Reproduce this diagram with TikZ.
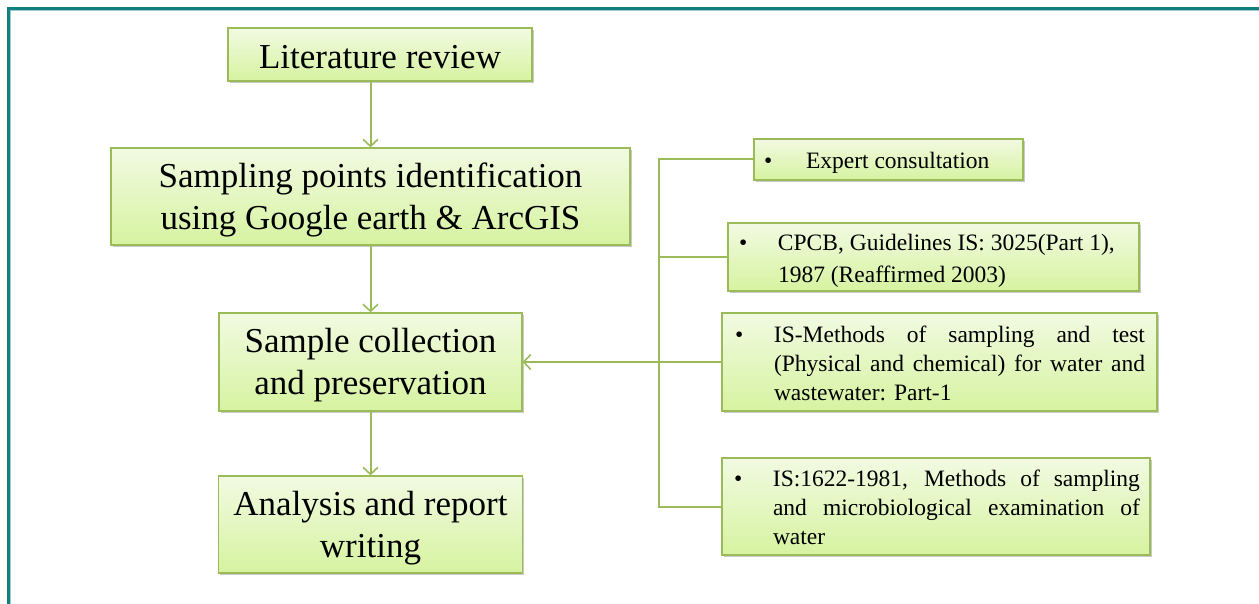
\documentclass[tikz,border=0pt]{standalone}
\usepackage{fontspec}
\setmainfont{Liberation Serif}
\usetikzlibrary{arrows.meta,shadows}

\definecolor{olive}{RGB}{155,187,89}
\definecolor{boxtop}{RGB}{242,250,226}
\definecolor{boxbot}{RGB}{214,243,160}
\definecolor{frameteal}{RGB}{17,128,128}

% bullet item: lead-in width, bullet offset, text width, lines
\newcommand{\bitem}[4]{\makebox[#1][l]{\hspace{#2}\textbullet}\parbox[t]{#3}{#4}}
\newcommand{\jline}[1]{\makebox[\linewidth][s]{#1}}
\newcommand{\padr}[1]{\rule{#1}{0pt}}

\begin{document}
\begin{tikzpicture}[x=1pt,y=-1pt,
  box/.style={draw=olive,line width=1.3pt,top color=boxtop,bottom color=boxbot,
    inner sep=0pt,
    drop shadow={shadow xshift=1.5pt,shadow yshift=-2pt,opacity=0.35,fill=black!60}},
  bigbox/.style={box,align=center,font=\fontsize{35}{42}\selectfont},
  twoline/.style={bigbox,text height=73pt},
  smallbox/.style={box,font=\fontsize{23.5}{29}\selectfont},
  conn/.style={draw=olive,line width=2pt},
  arr/.style={conn,-{Straight Barb[length=7pt,width=15pt,line width=1.6pt]}}
]
\useasboundingbox (0,0) rectangle (1259,604);

% frame
\draw[frameteal,line width=3pt] (8.5,604) -- (8.5,8.5) -- (1259,8.5);
\draw[frameteal!40,line width=0.8pt] (10.5,604) -- (10.5,10.5) -- (1259,10.5);

% main steps
\node[bigbox,minimum width=304pt,minimum height=53pt,text height=28pt] (lit) at (380,54.5) {Literature review};
\node[twoline,minimum width=519pt,minimum height=97pt] (samp) at (370.5,196.5)
  {Sampling points identification\\using Google earth \& ArcGIS};
\node[twoline,minimum width=303pt,minimum height=98pt] (coll) at (370.5,362)
  {Sample collection\\and preservation};
\node[twoline,minimum width=304pt,minimum height=97pt] (ana) at (370.5,524.5)
  {Analysis and report\\writing};

% references
\node[smallbox,minimum width=269pt,minimum height=41pt,text height=22.5pt] (exp) at (888.5,159.5)
  {\makebox[269pt][l]{\makebox[52pt][l]{\hspace{10pt}\textbullet}Expert consultation}};
\node[smallbox,minimum width=411pt,minimum height=68pt,text height=24.5pt] (cpcb) at (933.5,257)
  {\bitem{50pt}{11pt}{350pt}{\fontsize{23.5}{31.5}\selectfont CPCB, Guidelines IS: 3025(Part 1),\\1987 (Reaffirmed 2003)}\padr{11pt}};
\node[smallbox,minimum width=435pt,minimum height=98pt,text height=19pt] (ism) at (939.5,362)
  {\bitem{52pt}{13pt}{371pt}{\jline{IS-Methods of sampling and test}\\\jline{(Physical and chemical) for water and}\\wastewater: Part-1}\padr{12pt}};
\node[smallbox,minimum width=428pt,minimum height=97pt,text height=19pt] (isb) at (936,506.5)
  {\bitem{51pt}{12pt}{367pt}{\jline{IS:1622-1981, Methods of sampling}\\\jline{and microbiological examination of}\\water}\padr{10pt}};

% flow arrows
\draw[arr] (lit.south -| samp.north) -- (samp.north);
\draw[arr] (samp.south) -- (coll.north);
\draw[arr] (coll.south) -- (ana.north);

% reference bus
\coordinate (bus) at (659,0);
\draw[conn] (exp.west) -- (exp.west -| bus) -- (isb.west -| bus) -- (isb.west);
\draw[conn] (cpcb.west) -- (cpcb.west -| bus);
\draw[arr] (ism.west) -- (coll.east);
\end{tikzpicture}
\end{document}
